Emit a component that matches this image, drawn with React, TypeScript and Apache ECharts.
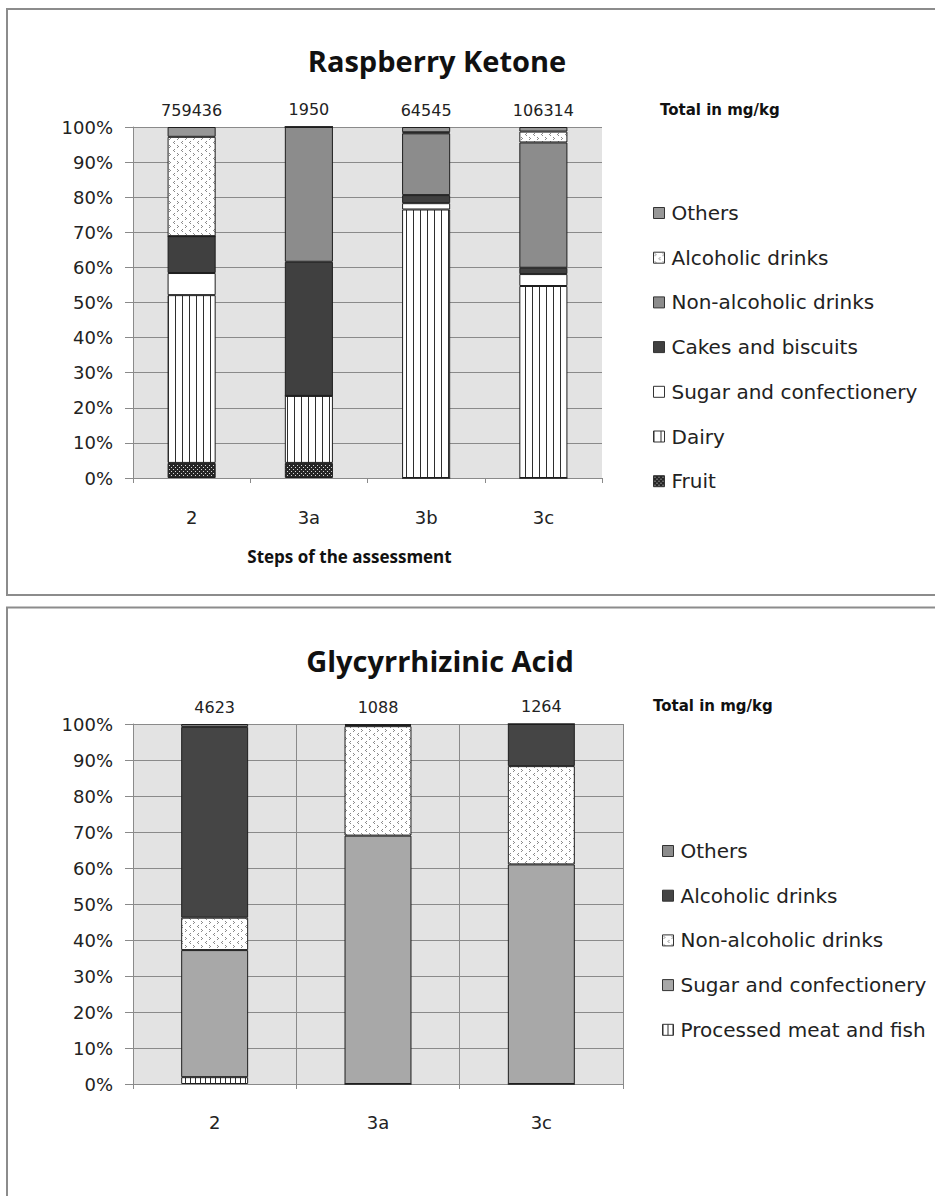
import React, { useEffect, useRef } from "react";
import * as echarts from "echarts";

// ---------- Data: Raspberry Ketone ----------
const rkCategories = ["2", "3a", "3b", "3c"];
const rkTotals = [759436, 1950, 64545, 106314];
const rkFruit = [4.3, 4.3, 0, 0];
const rkDairy = [47.8, 19.1, 76.5, 54.7];
const rkSugar = [6.3, 0, 1.8, 3.4];
const rkCakes = [10.5, 38.2, 2.3, 1.8];
const rkNonAlcoholic = [0, 38.4, 17.6, 35.7];
const rkAlcoholic = [28.3, 0, 0.3, 3.1];
const rkOthers = [2.8, 0, 1.5, 1.3];

// ---------- Data: Glycyrrhizinic Acid ----------
const gaCategories = ["2", "3a", "3c"];
const gaTotals = [4623, 1088, 1264];
const gaProcessed = [1.9, 0, 0];
const gaSugar = [35.3, 69.0, 61.0];
const gaNonAlcoholic = [9.0, 30.4, 27.3];
const gaAlcoholic = [53.0, 0.3, 11.7];
const gaOthers = [0.8, 0.3, 0];

const yTicks = [0, 10, 20, 30, 40, 50, 60, 70, 80, 90, 100];

const FONT = '"DejaVu Sans", Verdana, sans-serif';
const TITLE_FONT = '"Open Sans", "Noto Sans", sans-serif';

function makePattern(w: number, h: number, bg: string, draw: (ctx: CanvasRenderingContext2D) => void) {
  const c = document.createElement("canvas");
  c.width = w;
  c.height = h;
  const ctx = c.getContext("2d")!;
  ctx.fillStyle = bg;
  ctx.fillRect(0, 0, w, h);
  draw(ctx);
  return { image: c.toDataURL(), imageWidth: w, imageHeight: h, repeat: "repeat" } as any;
}

function buildPatterns() {
  const stripes = makePattern(7, 4, "#ffffff", (ctx) => {
    ctx.fillStyle = "#2e2e2e";
    ctx.fillRect(0, 0, 1, 4);
  });
  const fineStripes = makePattern(5, 4, "#ffffff", (ctx) => {
    ctx.fillStyle = "#2e2e2e";
    ctx.fillRect(0, 0, 1, 4);
  });
  const darkDots = makePattern(4, 4, "#262626", (ctx) => {
    ctx.fillStyle = "#d8d8d8";
    ctx.fillRect(1, 1, 1, 1);
    ctx.fillRect(3, 3, 1, 1);
  });
  const lightDots = makePattern(8, 8, "#ffffff", (ctx) => {
    ctx.fillStyle = "#8a8a8a";
    ctx.fillRect(1, 1, 1, 1);
    ctx.fillRect(2, 2, 1, 1);
    ctx.fillRect(1, 3, 1, 1);
    ctx.fillRect(6, 5, 1, 1);
    ctx.fillRect(5, 6, 1, 1);
    ctx.fillRect(6, 7, 1, 1);
  });
  return { stripes, fineStripes, darkDots, lightDots };
}

function bar(name: string, data: number[], color: any, extra: any = {}) {
  return {
    type: "bar",
    name,
    stack: "total",
    data,
    barWidth: "41%",
    itemStyle: { color, borderColor: "#1e1e1e", borderWidth: 1 },
    ...extra,
  };
}

function totalLabel(totals: number[]) {
  return {
    label: {
      show: true,
      position: "top",
      distance: 9,
      fontFamily: FONT,
      fontSize: 16,
      color: "#222",
      formatter: (p: any) => String(totals[p.dataIndex]),
    },
  };
}

function yAxis() {
  return {
    type: "value",
    min: 0,
    max: 100,
    interval: 10,
    axisLine: { show: true, lineStyle: { color: "#8a8a8a" } },
    axisTick: { show: true, length: 8, lineStyle: { color: "#8a8a8a" } },
    axisLabel: {
      formatter: (v: number) => (yTicks.includes(v) ? v + "%" : ""),
      fontFamily: FONT,
      fontSize: 18,
      color: "#222",
      margin: 20,
    },
    splitLine: { show: true, lineStyle: { color: "#8a8a8a", width: 1 } },
  };
}

function legend(names: string[], left: number, top: number) {
  return {
    orient: "vertical",
    left,
    top,
    padding: 0,
    icon: "rect",
    itemWidth: 11,
    itemHeight: 11,
    itemGap: 24.7,
    data: [...names].reverse(),
    itemStyle: { borderColor: "#333", borderWidth: 1 },
    textStyle: { fontFamily: FONT, fontSize: 20, color: "#222", lineHeight: 20, padding: [0, 0, 0, 2] },
    selectedMode: false,
  };
}

function frame(y: number, h: number) {
  return {
    type: "rect",
    shape: { x: 7, y, width: 980, height: h },
    style: { fill: "none", stroke: "#8c8c8c", lineWidth: 2 },
    silent: true,
  };
}

function titleText(text: string, x: number, y: number) {
  return {
    type: "text",
    x,
    y,
    style: {
      text,
      fontFamily: TITLE_FONT,
      fontWeight: "bold",
      fontSize: 29,
      fill: "#111",
      textAlign: "center",
      textVerticalAlign: "middle",
    },
  };
}

function totalText(x: number, y: number) {
  return {
    type: "text",
    x,
    y,
    style: {
      text: "Total in mg/kg",
      fontFamily: FONT,
      fontWeight: "bold",
      fontSize: 15,
      fill: "#111",
      textVerticalAlign: "middle",
    },
  };
}

function buildTop(p: any) {
  const names = [
    "Fruit",
    "Dairy",
    "Sugar and confectionery",
    "Cakes and biscuits",
    "Non-alcoholic drinks",
    "Alcoholic drinks",
    "Others",
  ];
  return {
    animation: false,
    backgroundColor: "transparent",
    grid: {
      left: 133,
      top: 127,
      width: 469,
      height: 351,
      show: true,
      backgroundColor: "#e3e3e3",
      borderWidth: 0,
    },
    legend: legend(names, 653, 203),
    xAxis: {
      type: "category",
      data: rkCategories,
      boundaryGap: true,
      name: "Steps of the assessment",
      nameLocation: "middle",
      nameGap: 70,
      nameTextStyle: {
        fontFamily: TITLE_FONT,
        fontWeight: "bold",
        fontSize: 17,
        color: "#111",
        padding: [0, 36, 0, 0],
      },
      axisLine: { show: true, lineStyle: { color: "#8a8a8a" } },
      axisTick: { show: true, length: 5, lineStyle: { color: "#8a8a8a" } },
      axisLabel: { fontFamily: FONT, fontSize: 18, color: "#222", margin: 30 },
      splitLine: { show: false },
    },
    yAxis: yAxis(),
    series: [
      bar(names[0], rkFruit, p.darkDots),
      bar(names[1], rkDairy, p.stripes),
      bar(names[2], rkSugar, "#ffffff"),
      bar(names[3], rkCakes, "#404040"),
      bar(names[4], rkNonAlcoholic, "#8c8c8c"),
      bar(names[5], rkAlcoholic, p.lightDots),
      bar(names[6], rkOthers, "#979797", totalLabel(rkTotals)),
    ],
    graphic: [frame(9, 586), titleText("Raspberry Ketone", 437, 60), totalText(660, 110)],
  };
}

function buildBottom(p: any) {
  const names = [
    "Processed meat and fish",
    "Sugar and confectionery",
    "Non-alcoholic drinks",
    "Alcoholic drinks",
    "Others",
  ];
  return {
    animation: false,
    backgroundColor: "transparent",
    grid: {
      left: 133,
      top: 124,
      width: 490,
      height: 360,
      show: true,
      backgroundColor: "#e3e3e3",
      borderWidth: 0,
    },
    legend: legend(names, 662, 241),
    xAxis: {
      type: "category",
      data: gaCategories,
      boundaryGap: true,
      axisLine: { show: true, lineStyle: { color: "#8a8a8a" } },
      axisTick: { show: true, length: 5, lineStyle: { color: "#8a8a8a" } },
      axisLabel: { fontFamily: FONT, fontSize: 18, color: "#222", margin: 29 },
      splitLine: { show: true, lineStyle: { color: "#8a8a8a", width: 1 } },
    },
    yAxis: yAxis(),
    series: [
      bar(names[0], gaProcessed, p.fineStripes),
      bar(names[1], gaSugar, "#a8a8a8"),
      bar(names[2], gaNonAlcoholic, p.lightDots),
      bar(names[3], gaAlcoholic, "#454545"),
      bar(names[4], gaOthers, "#8c8c8c", totalLabel(gaTotals)),
    ],
    graphic: [frame(7.5, 700), titleText("Glycyrrhizinic Acid", 440, 60), totalText(653, 106)],
  };
}

export default function App() {
  const topRef = useRef<HTMLDivElement>(null);
  const botRef = useRef<HTMLDivElement>(null);

  useEffect(() => {
    const p = buildPatterns();
    const c1 = echarts.init(topRef.current!, null, { renderer: "svg" });
    c1.setOption(buildTop(p) as any);
    const c2 = echarts.init(botRef.current!, null, { renderer: "svg" });
    c2.setOption(buildBottom(p) as any);
    return () => {
      c1.dispose();
      c2.dispose();
    };
  }, []);

  return (
    <div
      style={{
        position: "absolute",
        left: 0,
        top: 0,
        width: 935,
        height: 1196,
        background: "#ffffff",
        overflow: "hidden",
      }}
    >
      <div ref={topRef} style={{ position: "absolute", left: 0, top: 0, width: 935, height: 600 }} />
      <div ref={botRef} style={{ position: "absolute", left: 0, top: 600, width: 935, height: 596 }} />
    </div>
  );
}
